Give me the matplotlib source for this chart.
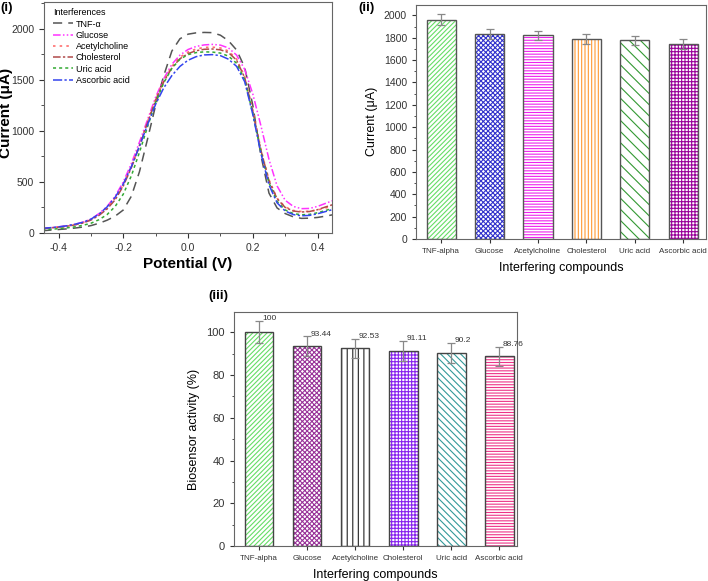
import numpy as np
import matplotlib
matplotlib.use("Agg")
import matplotlib.pyplot as plt
from matplotlib.ticker import MultipleLocator

plt.rcParams['font.family'] = ['Liberation Sans', 'DejaVu Sans']
plt.rcParams['hatch.linewidth'] = 0.8

# ---------------- Panel (i) data ----------------
potential = [-0.45, -0.425, -0.4, -0.375, -0.35, -0.325, -0.3, -0.275, -0.25, -0.225,
             -0.2, -0.175, -0.15, -0.125, -0.1, -0.075, -0.05, -0.025, 0.0, 0.025,
             0.05, 0.075, 0.1, 0.125, 0.15, 0.175, 0.2, 0.225, 0.25, 0.275,
             0.3, 0.325, 0.35, 0.375, 0.4, 0.425, 0.45]
tnf = [22, 28, 34, 40, 48, 58, 72, 95, 125, 165,
       225, 360, 600, 920, 1250, 1540, 1780, 1900, 1945, 1958,
       1962, 1960, 1935, 1880, 1790, 1620, 1250, 760, 390, 245,
       190, 158, 143, 145, 152, 165, 180]
glucose = [45, 52, 60, 70, 85, 105, 135, 190, 260, 360,
           500, 680, 890, 1110, 1330, 1510, 1650, 1740, 1795, 1825,
           1840, 1845, 1838, 1810, 1740, 1600, 1360, 1050, 720, 460,
           320, 260, 238, 240, 260, 290, 320]
acetylcholine = [40, 48, 56, 66, 80, 100, 130, 180, 245, 340,
                 470, 650, 860, 1090, 1310, 1490, 1630, 1720, 1770, 1800,
                 1815, 1818, 1810, 1780, 1700, 1530, 1200, 820, 520, 340,
                 255, 220, 210, 212, 225, 245, 265]
cholesterol = [42, 49, 57, 66, 79, 98, 126, 172, 235, 325,
               460, 640, 850, 1080, 1300, 1480, 1615, 1705, 1755, 1783,
               1797, 1800, 1792, 1765, 1690, 1520, 1190, 810, 510, 335,
               250, 215, 205, 210, 228, 255, 280]
uric_acid = [30, 36, 42, 50, 60, 75, 95, 130, 180, 260,
             380, 560, 790, 1040, 1280, 1470, 1610, 1700, 1745, 1765,
             1772, 1770, 1760, 1730, 1660, 1500, 1170, 790, 490, 310,
             225, 190, 178, 182, 198, 220, 245]
ascorbic_acid = [45, 52, 60, 70, 85, 105, 135, 185, 255, 350,
                 480, 650, 850, 1060, 1260, 1420, 1540, 1630, 1690, 1725,
                 1742, 1745, 1735, 1700, 1630, 1480, 1160, 780, 470, 295,
                 215, 180, 168, 172, 188, 210, 232]
curve_labels = ['TNF-α', 'Glucose', 'Acetylcholine', 'Cholesterol', 'Uric acid', 'Ascorbic acid']

# ---------------- Panel (ii) data ----------------
compounds = ['TNF-alpha', 'Glucose', 'Acetylcholine', 'Cholesterol', 'Uric acid', 'Ascorbic acid']
current_vals = [1960, 1835, 1820, 1790, 1775, 1745]
current_err = [50, 43, 40, 43, 40, 44]

# ---------------- Panel (iii) data ----------------
activity_vals = [100, 93.44, 92.53, 91.11, 90.2, 88.76]
activity_err = [5.2, 4.6, 4.5, 4.7, 4.6, 4.3]
activity_labels = ['100', '93.44', '92.53', '91.11', '90.2', '88.76']

fig = plt.figure(figsize=(7.08, 5.81), dpi=100)

# ================= Panel (i) =================
ax1 = fig.add_axes([0.0621, 0.599, 0.407, 0.3976])
styles = [
    dict(color='#555555', linestyle=(0, (6, 4)), lw=1.1),
    dict(color='#ff33ff', linestyle=(0, (5, 1.5, 1, 1.5, 1, 1.5)), lw=1.1),
    dict(color='#ff6f6f', linestyle=(0, (1.5, 2.5)), lw=1.2),
    dict(color='#b04a4a', linestyle=(0, (5, 1.5, 1.5, 1.5)), lw=1.1),
    dict(color='#33aa33', linestyle=(0, (2, 2)), lw=1.1),
    dict(color='#3344ee', linestyle=(0, (6, 1.5, 1.5, 1.5)), lw=1.1),
]
for series, lab, st in zip([tnf, glucose, acetylcholine, cholesterol, uric_acid, ascorbic_acid],
                           curve_labels, styles):
    ax1.plot(potential, series, label=lab, **st)
ax1.set_xlim(-0.445, 0.445)
ax1.set_ylim(0, 2260)
ax1.xaxis.set_major_locator(MultipleLocator(0.2))
ax1.xaxis.set_minor_locator(MultipleLocator(0.1))
ax1.yaxis.set_major_locator(MultipleLocator(500))
ax1.yaxis.set_minor_locator(MultipleLocator(250))
ax1.xaxis.set_major_formatter(matplotlib.ticker.FuncFormatter(lambda v, p: f"{v:.1f}".replace('-0.0', '0.0')))
ax1.tick_params(axis='both', which='both', direction='out', labelsize=7.5, colors='#333333')
ax1.tick_params(which='major', length=3.5)
ax1.tick_params(which='minor', length=2)
ax1.set_xlabel('Potential (V)', fontsize=11, fontweight='bold', labelpad=3)
ax1.set_ylabel('Current (μA)', fontsize=11, fontweight='bold')
ax1.yaxis.set_label_coords(-0.108, 0.52)
for s in ax1.spines.values():
    s.set_color('#666666')
    s.set_linewidth(0.8)
leg = ax1.legend(title='Interferences', loc='upper left', frameon=False, fontsize=6.5,
                 title_fontsize=6.5, handlelength=2.2, handletextpad=0.3,
                 labelspacing=0.25, borderaxespad=0.3, bbox_to_anchor=(0.01, 1.0))
leg._legend_box.align = 'left'
fig.text(0.0, 0.997, '(i)', fontsize=9.5, fontweight='bold', va='top', ha='left')


def hatched_bars(ax, x, vals, errs, colors, hatches, edge='#555555'):
    for xi, v, c, h in zip(x, vals, colors, hatches):
        ax.bar(xi, v, width=0.6, color='white', edgecolor=c, hatch=h, linewidth=0, zorder=2)
        ax.bar(xi, v, width=0.6, fill=False, edgecolor=edge, linewidth=1.0, zorder=3)
    ax.errorbar(x, vals, yerr=errs, fmt='none', ecolor='#888888', elinewidth=0.9,
                capsize=3, capthick=0.9, zorder=4)


# ================= Panel (ii) =================
ax2 = fig.add_axes([0.5876, 0.5886, 0.4096, 0.4033])
xpos = np.arange(len(compounds))
colors2 = ['#66dd66', '#3333cc', '#ee22ee', '#ff9933', '#339933', '#990099']
hatches2 = ['///////', 'xxxxxxx', '------', '|||||', '\\\\\\', '+++++']
hatched_bars(ax2, xpos, current_vals, current_err, colors2, hatches2, edge='#555555')
ax2.set_xlim(-0.52, 5.47)
ax2.set_ylim(0, 2095)
ax2.set_xticks(xpos)
ax2.set_xticklabels(compounds, fontsize=5.8)
ax2.yaxis.set_major_locator(MultipleLocator(200))
ax2.yaxis.set_minor_locator(MultipleLocator(100))
ax2.tick_params(axis='both', which='both', direction='out', colors='#333333')
ax2.tick_params(axis='y', labelsize=7.5)
ax2.tick_params(which='major', length=3)
ax2.tick_params(which='minor', length=1.8)
ax2.set_ylabel('Current (μA)', fontsize=9, labelpad=4)
ax2.set_xlabel('Interfering compounds', fontsize=9, labelpad=5)
for s in ax2.spines.values():
    s.set_color('#666666')
    s.set_linewidth(0.8)
fig.text(0.506, 0.997, '(ii)', fontsize=9.5, fontweight='bold', va='top', ha='left')

# ================= Panel (iii) =================
ax3 = fig.add_axes([0.3305, 0.0602, 0.3997, 0.4028])
colors3 = ['#66dd66', '#993399', '#222222', '#8822ee', '#339999', '#ee3388']
hatches3 = ['///////', 'xxxxxxx', '|||', '+++++', '\\\\\\\\\\', '------']
hatched_bars(ax3, xpos, activity_vals, activity_err, colors3, hatches3, edge='#444444')
for xi, v, e, lab in zip(xpos, activity_vals, activity_err, activity_labels):
    ax3.text(xi + 0.08, v + e - 0.5, lab, fontsize=6, ha='left', va='bottom', color='#333333')
ax3.set_xlim(-0.52, 5.37)
ax3.set_ylim(0, 109.5)
ax3.set_xticks(xpos)
ax3.set_xticklabels(compounds, fontsize=5.8)
ax3.yaxis.set_major_locator(MultipleLocator(20))
ax3.yaxis.set_minor_locator(MultipleLocator(10))
ax3.tick_params(axis='both', which='both', direction='out', colors='#333333')
ax3.tick_params(axis='y', labelsize=8)
ax3.tick_params(which='major', length=3)
ax3.tick_params(which='minor', length=1.8)
ax3.set_ylabel('Biosensor activity (%)', fontsize=9, labelpad=5)
ax3.set_xlabel('Interfering compounds', fontsize=9, labelpad=5)
for s in ax3.spines.values():
    s.set_color('#666666')
    s.set_linewidth(0.8)
fig.text(0.294, 0.5, '(iii)', fontsize=9.5, fontweight='bold', va='top', ha='left')

fig.savefig('out.png', dpi=100)
